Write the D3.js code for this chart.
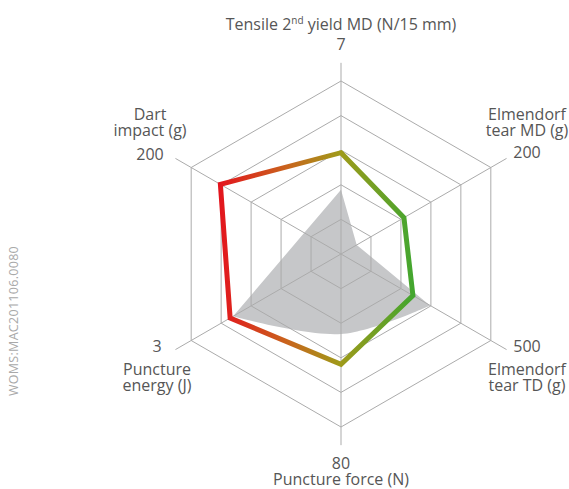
<!DOCTYPE html>
<html lang="en">
  <head>
    <meta charset="UTF-8" />
    <title>Radar chart</title>
    <script src="https://d3js.org/d3.v7.min.js"></script>
    <style>
      body { margin: 0; background: #fff; }
      svg { display: block; }
      .grid { fill: none; stroke: #ababab; stroke-width: 1px; }
      .lbl { font-family: "Open Sans", sans-serif; font-size: 16px; fill: #565656; }
      .code { font-family: "Open Sans", sans-serif; font-size: 12.5px; fill: #a9a9a9; }
    </style>
  </head>
  <body>
    <svg width="569" height="489"></svg>
    <script>
      // axes, clockwise from the top
      const axisNames = ["Tensile 2nd yield MD (N/15 mm)", "Elmendorf tear MD (g)", "Elmendorf tear TD (g)",
        "Puncture force (N)", "Puncture energy (J)", "Dart impact (g)"];
      const axisLines = [["Tensile 2|nd| yield MD (N/15 mm)"], ["Elmendorf", "tear MD (g)"], ["Elmendorf", "tear TD (g)"],
        ["Puncture force (N)"], ["Puncture", "energy (J)"], ["Dart", "impact (g)"]];
      const axisMax = [7, 200, 500, 80, 3, 200];
      const axisMaxLabels = ["7", "200", "500", "80", "3", "200"];
      // product (gradient line) and reference (grey area)
      const productValues = [4.1, 84, 240, 51, 2.22, 161];
      const referenceValues = [2.6, 21, 297, 37, 2.16, 49];
      const ringCount = 5;
      const footnote = "WOMS:MAC201106.0080";

      const svg = d3.select("svg");
      const cx = 341, cy = 254, R = 173;

      const scales = axisMax.map((m) => d3.scaleLinear().domain([0, m]).range([0, R]));
      const angle = (i) => (i * Math.PI) / 3;
      const pt = (i, r) => [cx + r * Math.sin(angle(i)), cy - r * Math.cos(angle(i))];
      const idx = d3.range(axisNames.length);

      // gradient for product line (red on the left to green on the right)
      const grad = svg.append("defs").append("linearGradient")
        .attr("id", "prodGrad").attr("gradientUnits", "userSpaceOnUse")
        .attr("x1", cx - 122).attr("x2", cx + 72).attr("y1", 0).attr("y2", 0);
      grad.append("stop").attr("offset", "0%").attr("stop-color", "#e3141d");
      grad.append("stop").attr("offset", "35%").attr("stop-color", "#c9641d");
      grad.append("stop").attr("offset", "62%").attr("stop-color", "#a09a1a");
      grad.append("stop").attr("offset", "100%").attr("stop-color", "#43a62f");

      // reference area: straight edges, rounded across the bottom
      const refPts = idx.map((i) => pt(i, scales[i](referenceValues[i])));
      const straight = d3.line()([refPts[4], refPts[5], refPts[0], refPts[1], refPts[2]]);
      const curved = d3.line().curve(d3.curveCatmullRom)([refPts[2], refPts[3], refPts[4]]);
      svg.append("path")
        .attr("d", straight + curved.replace(/^M[^C]*/, "") + "Z")
        .attr("fill", "#c6c7c9");

      // rings
      const ring = d3.line().curve(d3.curveLinearClosed);
      svg.selectAll(".ring")
        .data(d3.range(1, ringCount + 1))
        .enter()
        .append("path")
        .attr("class", "grid ring")
        .attr("d", (k) => ring(idx.map((i) => pt(i, (R * k) / ringCount))));

      // spokes
      svg.selectAll(".spoke")
        .data(idx)
        .enter()
        .append("line")
        .attr("class", "grid spoke")
        .attr("x1", cx).attr("y1", cy)
        .attr("x2", (i) => pt(i, R * 1.105)[0])
        .attr("y2", (i) => pt(i, R * 1.105)[1]);

      // product line
      svg.append("path")
        .attr("d", ring(idx.map((i) => pt(i, scales[i](productValues[i])))))
        .attr("fill", "none")
        .attr("stroke", "url(#prodGrad)")
        .attr("stroke-width", 5)
        .attr("stroke-linejoin", "miter");

      // labels: x, baseline of the max value, baseline of the first name line
      const layout = [
        { x: cx, value: 50, name: 30 },
        { x: 527, value: 158, name: 120 },
        { x: 527, value: 352, name: 375 },
        { x: cx, value: 469, name: 485 },
        { x: 157, value: 352, name: 375 },
        { x: 150, value: 160, name: 120 },
      ];
      const lineGap = 16;

      // one text block per axis: name lines plus the max value
      idx.forEach((i) => {
        const L = layout[i];
        const t = svg.append("text").attr("class", "lbl").attr("text-anchor", "middle");
        axisLines[i].forEach((line, j) => {
          const y = L.name + j * lineGap;
          const parts = line.split("|");
          if (parts.length === 3) {
            // superscript inside the title
            const w = t.append("tspan").attr("x", L.x).attr("y", y);
            w.append("tspan").text(parts[0]);
            w.append("tspan").attr("dy", -6).attr("font-size", "10px").text(parts[1]);
            w.append("tspan").attr("dy", 6).text(parts[2]);
          } else {
            t.append("tspan").attr("x", L.x).attr("y", y).text(line);
          }
        });
        t.append("tspan").attr("x", L.x).attr("y", L.value).text(axisMaxLabels[i]);
      });

      svg.append("text").attr("class", "code")
        .attr("transform", "translate(18,321) rotate(-90)")
        .attr("text-anchor", "middle")
        .attr("letter-spacing", "0.3px")
        .text(footnote);
    </script>
  </body>
</html>
